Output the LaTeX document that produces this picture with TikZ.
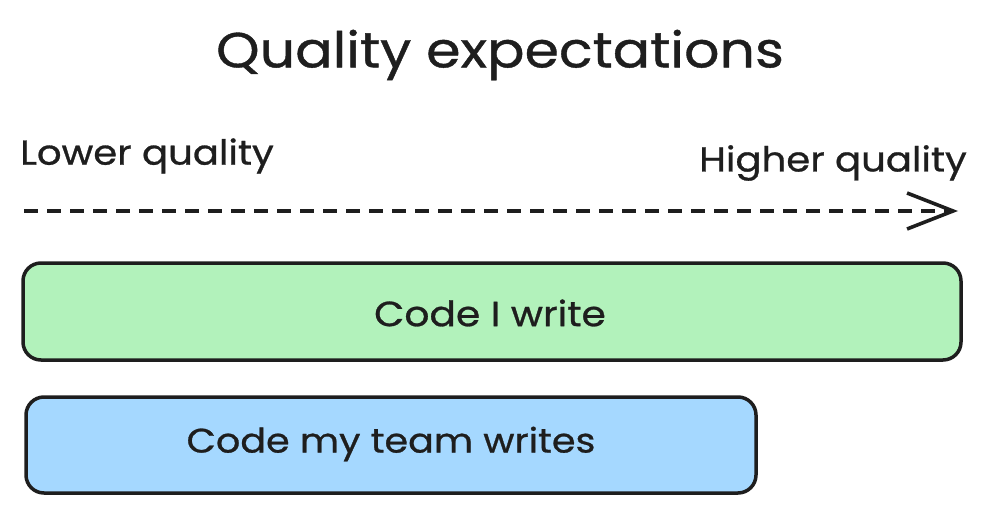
\documentclass[tikz,border=0pt]{standalone}
\usepackage{fontspec}
\setmainfont{Poppins}[FakeStretch=1.12, FakeBold=0.8]
\usetikzlibrary{arrows.meta}
\definecolor{ink}{HTML}{1E1E1E}
\definecolor{greenfill}{HTML}{B2F2BB}
\definecolor{bluefill}{HTML}{A5D8FF}
\tikzset{
  bar/.style={draw=ink, line width=3.5pt, rounded corners=18pt},
  lbl/.style={text=ink, inner sep=0pt},
}
\begin{document}
\begin{tikzpicture}[x=1pt,y=-1pt]
\useasboundingbox (0,0) rectangle (987,514);
\node[lbl, font=\fontsize{49.5}{56}\selectfont] (title) at (500,55) {Quality expectations};
\node[lbl, anchor=west, font=\fontsize{34.5}{40}\selectfont] (low) at (20,156) {Lower quality};
\node[lbl, anchor=east, font=\fontsize{34.5}{40}\selectfont] (high) at (967,163) {Higher quality};
\coordinate (a0) at (24,211);
\coordinate (a1) at (958,211);
\draw[ink, line width=3.4pt, dash pattern=on 14pt off 9pt, -{Straight Barb[length=46pt,width=36pt,line width=3.6pt]}] (a0) -- (a1);
\draw[bar, fill=greenfill] (23,263) rectangle (961,360);
\node[lbl, font=\fontsize{35}{40}\selectfont] (mine) at (490,313) {Code I write};
\draw[bar, fill=bluefill] (26,397) rectangle (756,493);
\node[lbl, font=\fontsize{34}{40}\selectfont] (team) at (391,444) {Code my team writes};
\end{tikzpicture}
\end{document}
